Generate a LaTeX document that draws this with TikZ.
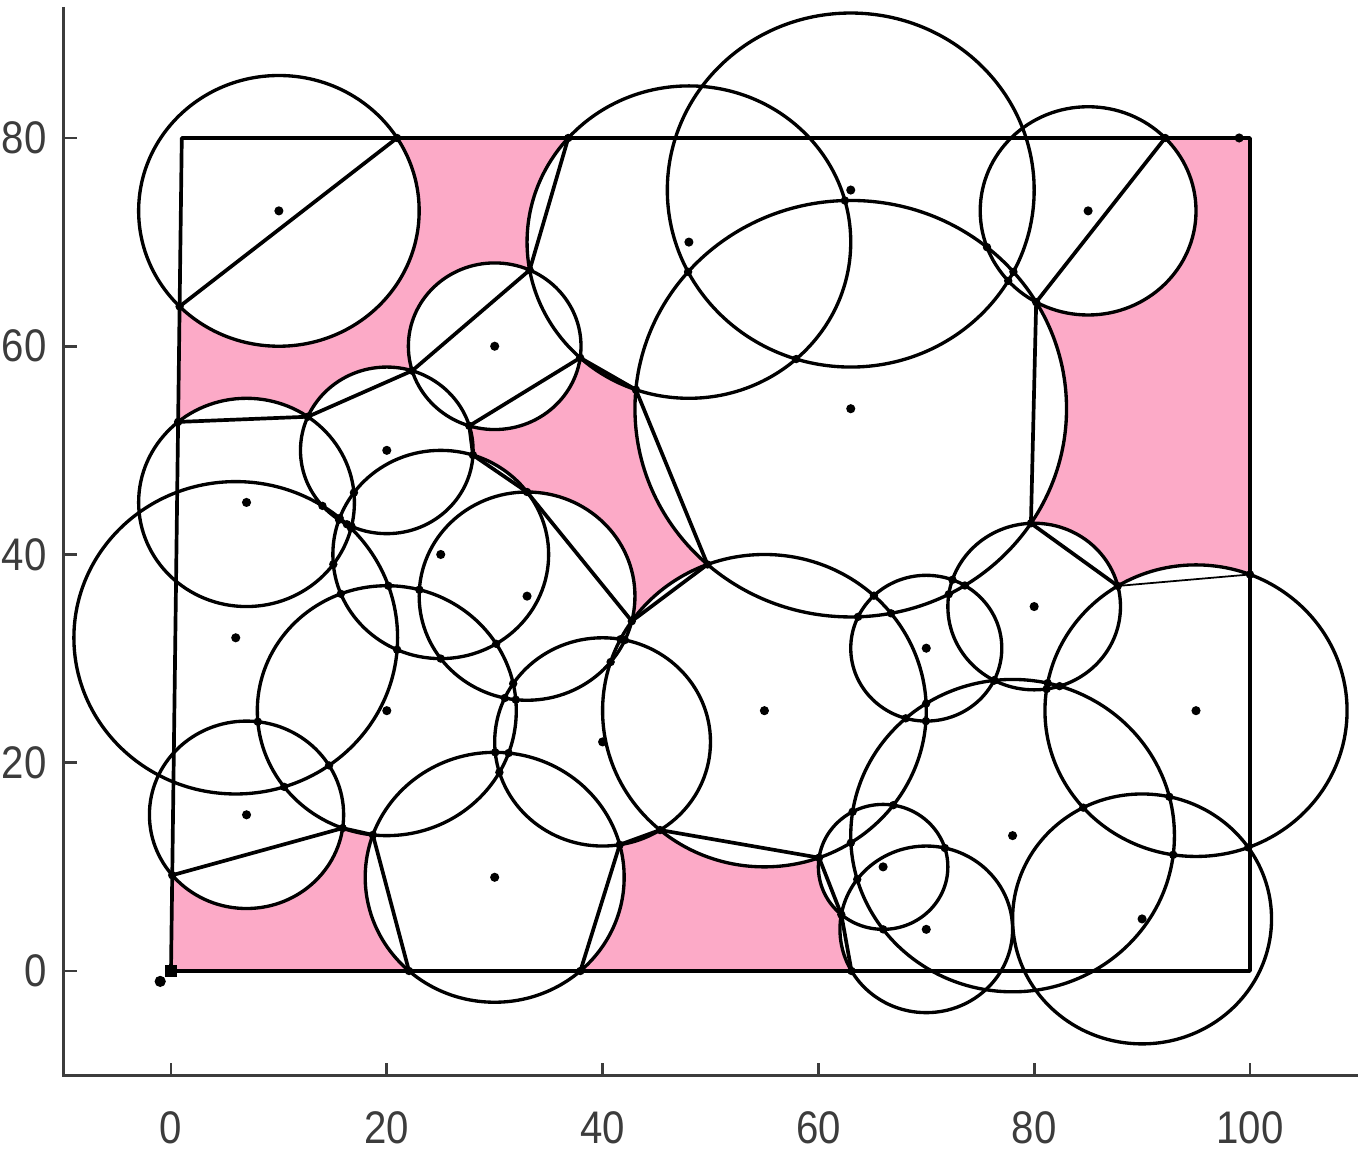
\documentclass[tikz,border=0pt]{standalone}
\usepackage{fontspec}
\newfontfamily\axfont{Liberation Sans}
\definecolor{pinkfill}{RGB}{252,170,199}
\definecolor{axgray}{RGB}{60,60,60}
% circle-circle intersection: x1 y1 r1 x2 y2 r2 sign name
\newcommand\cpt[8]{%
  \pgfmathsetmacro\cD{veclen((#4)-(#1),(#5)-(#2))}%
  \pgfmathsetmacro\cA{((#3)*(#3)-(#6)*(#6)+\cD*\cD)/(2*\cD)}%
  \pgfmathsetmacro\cH{sqrt(max((#3)*(#3)-\cA*\cA,0))}%
  \pgfmathsetmacro\cX{(#1)+\cA*((#4)-(#1))/\cD-(#7)*\cH*((#5)-(#2))/\cD}%
  \pgfmathsetmacro\cY{(#2)+\cA*((#5)-(#2))/\cD+(#7)*\cH*((#4)-(#1))/\cD}%
  \coordinate (#8) at (\cX,\cY);%
}
\def\circlelist{10/73/13, 30/60/8, 20/50/8, 7/45/10, 6/32/15, 25/40/10, 33/36/10, 20/25/12, 7/15/9, 30/9/12, 40/22/10, 48/70/15, 63/75/17, 63/54/20, 85/73/10, 55/25/15, 70/31/7, 80/35/8, 95/25/14, 78/13/15, 66/10/6, 70/4/8, 90/5/12}
\tikzset{
  circ/.style={draw=black, line width=0.95pt},
  poly/.style={draw=black, line width=1.05pt, line join=round},
  thinpoly/.style={draw=black, line width=0.5pt},
  axisline/.style={draw=axgray, line width=0.8pt},
  ticklab/.style={font=\axfont\fontsize{13}{15}\selectfont, text=axgray, inner sep=0pt, xscale=0.88},
}
\begin{document}
\begin{tikzpicture}
\useasboundingbox (0,0) rectangle (13.6,11.58);
\begin{scope}[shift={(1.71cm,1.87cm)}, x=0.1079cm, y=0.104125cm]
  % pink domain
  \fill[pinkfill] (0,0) -- (1,80) -- (100,80) -- (100,0) -- cycle;
  % covered areas
  \foreach \cx/\cy/\cr in \circlelist { \fill[white] (\cx,\cy) circle[radius=\cr]; }
  \foreach \cx/\cy/\cr in \circlelist { \draw[circ] (\cx,\cy) circle[radius=\cr]; }
  % domain boundary
  \coordinate (o1) at (0,0);
  \coordinate (o2) at (1,80);
  \coordinate (o3) at (100,80);
  \coordinate (o4) at (100,0);
  \draw[poly] (o1) -- (o2) -- (o3) -- (o4) -- cycle;
  % chain vertices
  \coordinate (a1) at (0.659,52.73);
  \cpt{7}{45}{10}{20}{50}{8}{1}{a2}
  \cpt{20}{50}{8}{30}{60}{8}{1}{a3}
  \cpt{30}{60}{8}{48}{70}{15}{1}{a4}
  \coordinate (a5) at (36.82,80);
  \coordinate (a6) at (20.95,80);
  \coordinate (a7) at (0.798,63.82);
  \cpt{20}{50}{8}{30}{60}{8}{-1}{b1}
  \cpt{20}{50}{8}{25}{40}{10}{1}{b2}
  \cpt{25}{40}{10}{33}{36}{10}{1}{b3}
  \cpt{33}{36}{10}{55}{25}{15}{1}{b4}
  \cpt{55}{25}{15}{63}{54}{20}{1}{b5}
  \cpt{63}{54}{20}{48}{70}{15}{1}{b6}
  \cpt{30}{60}{8}{48}{70}{15}{-1}{b7}
  \coordinate (c1) at (0.115,9.2);
  \cpt{7}{15}{9}{20}{25}{12}{-1}{c2}
  \cpt{20}{25}{12}{30}{9}{12}{-1}{c3}
  \coordinate (c4) at (22.06,0);
  \coordinate (d1) at (37.94,0);
  \cpt{30}{9}{12}{40}{22}{10}{-1}{d2}
  \cpt{40}{22}{10}{55}{25}{15}{-1}{d3}
  \cpt{55}{25}{15}{66}{10}{6}{-1}{d4}
  \cpt{66}{10}{6}{70}{4}{8}{-1}{d5}
  \coordinate (d6) at (63.07,0);
  \coordinate (e1) at (92.14,80);
  \cpt{85}{73}{10}{63}{54}{20}{1}{e2}
  \cpt{63}{54}{20}{80}{35}{8}{1}{e3}
  \cpt{80}{35}{8}{95}{25}{14}{1}{e4}
  \coordinate (e5) at (100,38.08);
  % chains
  \draw[poly] (a7) -- (a6);
  \draw[poly] (a1) -- (a2) -- (a3) -- (a4) -- (a5);
  \draw[poly] (b1) -- (b2) -- (b3) -- (b4) -- (b5) -- (b6) -- (b7) -- cycle;
  \draw[poly] (c1) -- (c2) -- (c3) -- (c4);
  \draw[poly] (d1) -- (d2) -- (d3) -- (d4) -- (d5) -- (d6);
  \draw[poly] (e1) -- (e2) -- (e3) -- (e4);
  \draw[thinpoly] (e4) -- (e5);
  % vertex dots on the domain boundary
  \foreach \p in {a1,a5,a6,a7,c1,c4,d1,d6,e1,e5}
    \fill (\p) circle[radius=1.2pt];
  % centre dots
  \foreach \cx/\cy/\cr in \circlelist { \fill (\cx,\cy) circle[radius=1.3pt]; }
  % intersection dots
  \foreach \xa/\ya/\ra [count=\i] in \circlelist {
    \foreach \xb/\yb/\rb [count=\j] in \circlelist {
      \ifnum\j>\i\relax
        \pgfmathsetmacro\kD{veclen(\xb-\xa,\yb-\ya)}
        \pgfmathtruncatemacro\kOK{and(\kD<\ra+\rb-0.001,\kD>abs(\ra-\rb)+0.001)}
        \ifnum\kOK=1\relax
          \pgfmathsetmacro\kA{(\ra*\ra-\rb*\rb+\kD*\kD)/(2*\kD)}
          \pgfmathsetmacro\kH{sqrt(max(\ra*\ra-\kA*\kA,0))}
          \pgfmathsetmacro\kUx{(\xb-\xa)/\kD}
          \pgfmathsetmacro\kUy{(\yb-\ya)/\kD}
          \pgfmathsetmacro\kMx{\xa+\kA*\kUx}
          \pgfmathsetmacro\kMy{\ya+\kA*\kUy}
          \foreach \s in {1,-1} {
            \pgfmathsetmacro\kPx{\kMx-(\s)*\kH*\kUy}
            \pgfmathsetmacro\kPy{\kMy+(\s)*\kH*\kUx}
            \pgfmathtruncatemacro\kIn{and(and(\kPx>=\kPy/80-0.01,\kPx<=100.01),and(\kPy>=-0.01,\kPy<=80.01))}
            \ifnum\kIn=1\relax \fill (\kPx,\kPy) circle[radius=1.2pt]; \fi
          }
        \fi
      \fi
    }
  }
  % special markers
  \node[fill=black, inner sep=0pt, minimum size=3.4pt] (orig) at (0,0) {};
  \fill (-1,-1) circle[radius=1.6pt];
  \fill (99,80) circle[radius=1.3pt];
  % axes
  \coordinate (ax0) at (-10,-10);
  \coordinate (axx) at (110,-10);
  \coordinate (axy) at (-10,92.6);
  \draw[axisline] (axy) -- (ax0) -- (axx);
  \foreach \v in {0,20,...,100} {
    \draw[axisline] (\v,-10) -- ++(0,0.12cm);
    \node[ticklab] (xl\v) at ([yshift=-0.525cm]\v,-10) {\v};
  }
  \foreach \v in {0,20,...,80} {
    \draw[axisline] (-10,\v) -- ++(0.14cm,0);
    \node[ticklab, anchor=east] (yl\v) at ([xshift=-0.16cm]-10,\v) {\v};
  }
\end{scope}
\end{tikzpicture}
\end{document}
